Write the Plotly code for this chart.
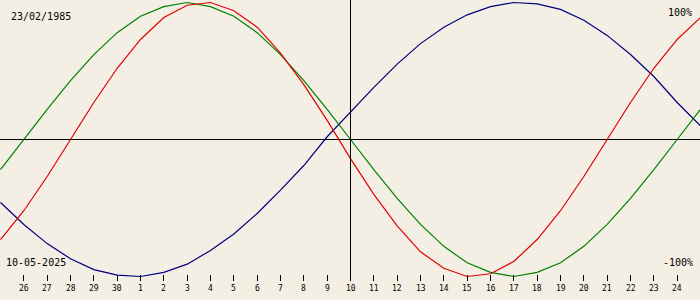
import plotly.graph_objects as go

# Day-of-month labels for the 31 plotted days (25 Apr .. 25 May 2025)
days = ["25", "26", "27", "28", "29", "30", "1", "2", "3", "4", "5", "6", "7", "8", "9",
        "10", "11", "12", "13", "14", "15", "16", "17", "18", "19", "20", "21", "22", "23",
        "24", "25"]

# Biorhythm values in percent
physical = [-73, -52, -27, 0, 27, 52, 73, 89, 98, 100, 94, 82, 63, 40, 14,
            -14, -40, -63, -82, -94, -100, -98, -89, -73, -52, -27, 0, 27, 52, 73, 89]
emotional = [-22, 0, 22, 43, 62, 78, 90, 97, 100, 97, 90, 78, 62, 43, 22,
             0, -22, -43, -62, -78, -90, -97, -100, -97, -90, -78, -62, -43, -22, 0, 22]
intellectual = [-46, -62, -76, -87, -95, -99, -100, -97, -91, -81, -69, -54, -37, -19, 2,
                20, 38, 55, 70, 82, 91, 97, 100, 99, 95, 87, 76, 62, 46, 27, 10]

birth_date = "23/02/1985"
today_label = "10-05-2025"
today_index = 15
top_label = "100%"
bottom_label = "-100%"

W, H = 700, 300
BG = "#F3EFE4"
AXIS_Y_PX = 281  # pixel row of the tick baseline

x = list(range(len(days)))
n_span = len(days) - 1
px_per_day = W / n_span
half = 0.5 / px_per_day  # half-pixel shift for crisp 1px lines

fig = go.Figure()
series = [
    (intellectual, "#000080"),
    (emotional, "#008000"),
    (physical, "#E00000"),
]
for vals, col in series:
    fig.add_trace(go.Scatter(x=x, y=vals, mode="lines",
                             line=dict(color=col, width=1.2), hoverinfo="skip",
                             showlegend=False))

# Vertical "today" line
fig.add_shape(type="line", xref="x", yref="paper",
              x0=today_index, x1=today_index,
              y0=(H - AXIS_Y_PX) / H, y1=1,
              line=dict(color="black", width=1))

tick_idx = x[1:-1]
fig.update_xaxes(range=[-half, n_span - half], showgrid=False, zeroline=False,
                 showline=False, anchor="free", position=(H - AXIS_Y_PX) / H,
                 tickmode="array", tickvals=tick_idx, ticks="inside",
                 ticklen=6, tickwidth=1, tickcolor="black",
                 showticklabels=False, fixedrange=True)

scale = 137.0 / 100.0  # pixels per percent
center_px = 139.5
span = H / scale
ymax = center_px / H * span
ymin = ymax - span
fig.update_yaxes(range=[ymin, ymax], showgrid=False, zeroline=True,
                 zerolinecolor="black", zerolinewidth=1, showticklabels=False,
                 showline=False, ticks="", fixedrange=True)

annos = []
for i in tick_idx:
    annos.append(dict(x=i, xref="x", y=1 - 288 / H, yref="paper",
                      text=days[i], showarrow=False, xanchor="center",
                      yanchor="middle",
                      font=dict(family="DejaVu Sans Mono", size=8, color="black")))

txt_font = dict(family="DejaVu Sans Mono", size=10, color="black")
annos.append(dict(x=9 / W, xref="paper", y=1 - 17 / H, yref="paper", text=birth_date,
                  showarrow=False, xanchor="left", yanchor="middle", font=txt_font))
annos.append(dict(x=4 / W, xref="paper", y=1 - 262 / H, yref="paper", text=today_label,
                  showarrow=False, xanchor="left", yanchor="middle", font=txt_font))
annos.append(dict(x=694 / W, xref="paper", y=1 - 12 / H, yref="paper", text=top_label,
                  showarrow=False, xanchor="right", yanchor="middle", font=txt_font))
annos.append(dict(x=695 / W, xref="paper", y=1 - 262 / H, yref="paper", text=bottom_label,
                  showarrow=False, xanchor="right", yanchor="middle", font=txt_font))

fig.update_layout(width=W, height=H, margin=dict(l=0, r=0, t=0, b=0),
                  paper_bgcolor=BG, plot_bgcolor=BG, annotations=annos,
                  showlegend=False)

fig.write_html("out.html", config={"displayModeBar": False})
